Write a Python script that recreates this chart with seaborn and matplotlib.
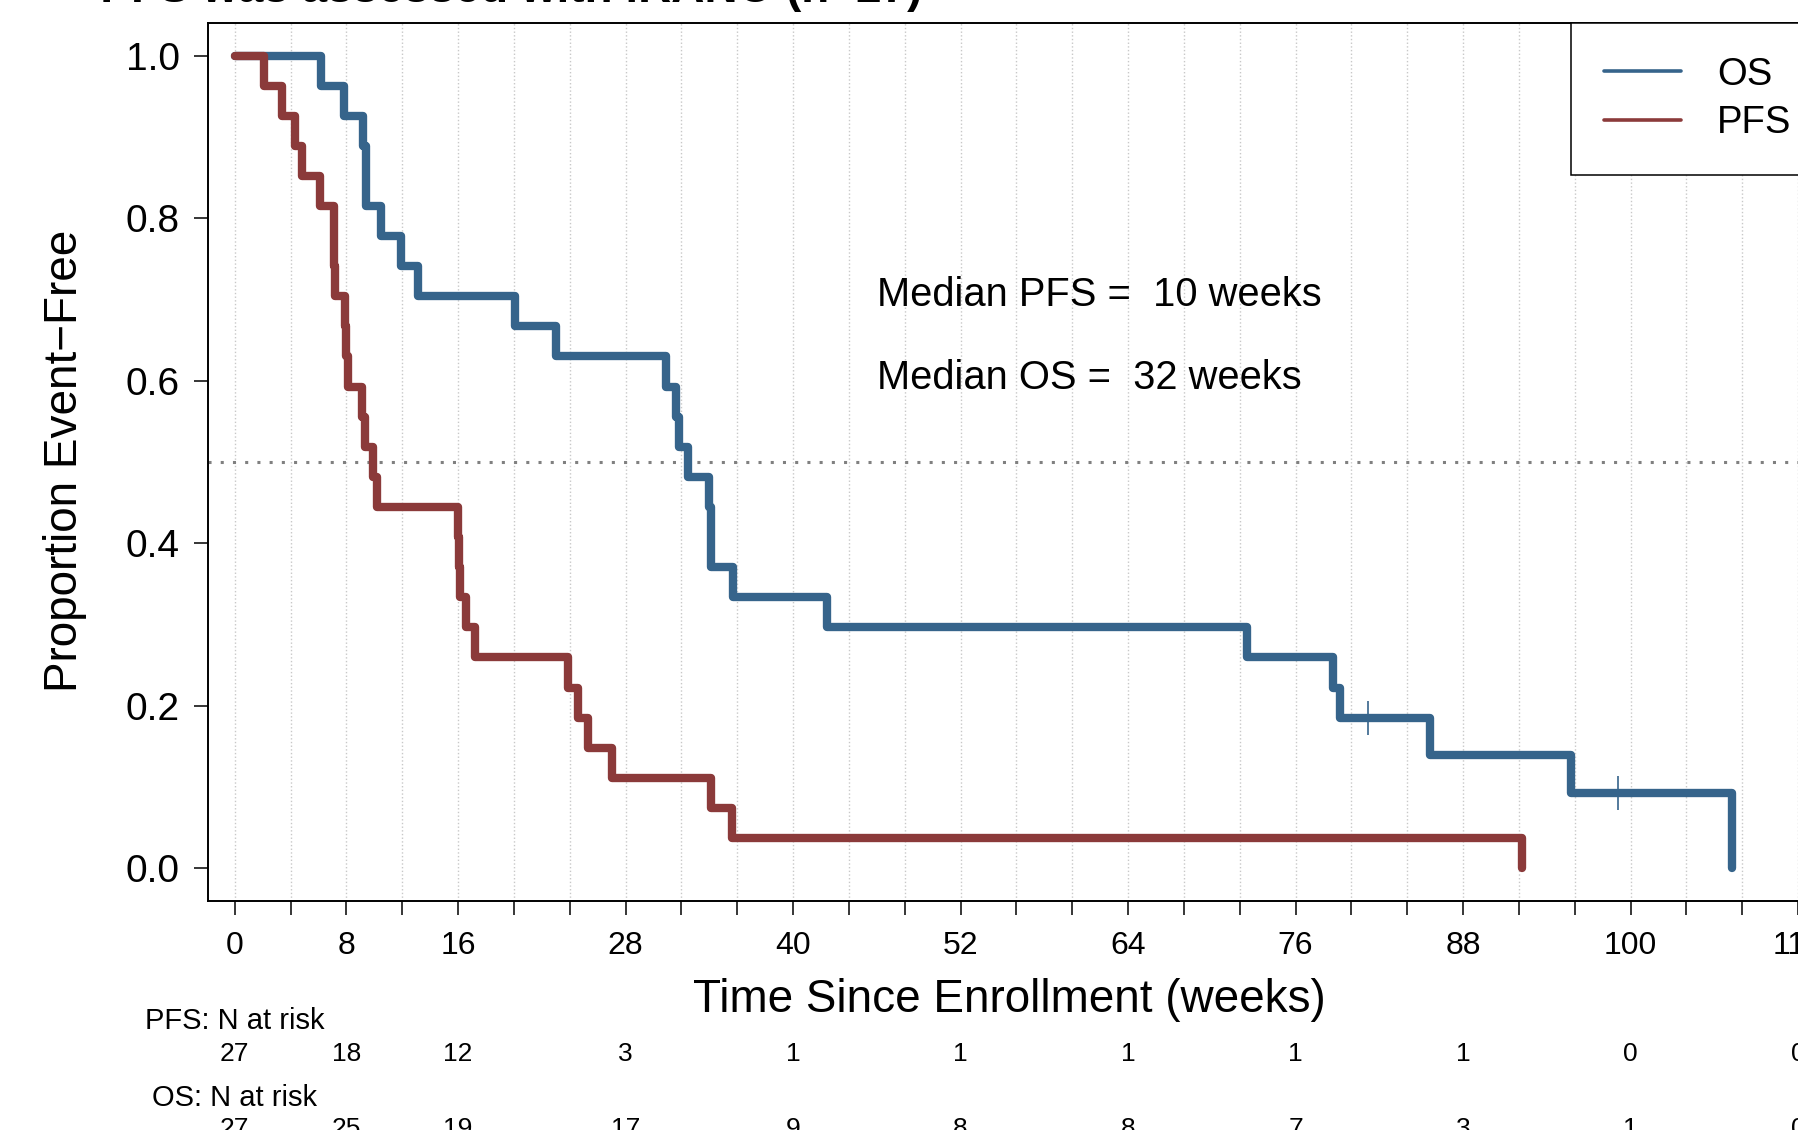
import numpy as np
import pandas as pd
import matplotlib
matplotlib.use("Agg")
import matplotlib.pyplot as plt
import matplotlib.transforms as mtransforms
from matplotlib.lines import Line2D
import seaborn as sns

# follow-up times in weeks (event = 1, censored = 0)
os_time = [6.2, 7.8, 9.2, 9.4, 9.4, 10.5, 11.9, 13.1, 20.1, 23.0, 30.9, 31.6, 31.8,
           32.5, 34.0, 34.1, 34.1, 35.7, 42.4, 72.5, 78.7, 79.2, 81.2, 85.6, 95.7,
           99.1, 107.3]
os_event = [1, 1, 1, 1, 1, 1, 1, 1, 1, 1, 1, 1, 1,
            1, 1, 1, 1, 1, 1, 1, 1, 1, 0, 1, 1,
            0, 1]
pfs_time = [2.1, 3.4, 4.3, 4.8, 6.1, 7.1, 7.1, 7.2, 7.9, 8.0, 8.1, 9.1, 9.3, 9.9,
            10.2, 16.0, 16.05, 16.15, 16.6, 17.2, 23.9, 24.6, 25.3, 27.0, 34.1, 35.6,
            92.2]
pfs_event = [1, 1, 1, 1, 1, 1, 1, 1, 1, 1, 1, 1, 1, 1,
             1, 1, 1, 1, 1, 1, 1, 1, 1, 1, 1, 1,
             1]

# number at risk table
risk_times = [0, 8, 16, 28, 40, 52, 64, 76, 88, 100, 112]
pfs_at_risk = [27, 18, 12, 3, 1, 1, 1, 1, 1, 0, 0]
os_at_risk = [27, 25, 19, 17, 9, 8, 8, 7, 3, 1, 0]

median_pfs = 10
median_os = 32

blue = "#36648B"   # steelblue4
red = "#8B3A3A"    # indianred4


def km_steps(times, events):
    d = pd.DataFrame({"t": times, "e": events}).sort_values("t")
    n = len(d)
    s = 1.0
    xs, ys, cx, cy = [0.0], [1.0], [], []
    for t, g in d.groupby("t"):
        deaths = g["e"].sum()
        if deaths > 0:
            s *= 1 - deaths / n
            xs.append(t)
            ys.append(s)
        for _ in range((g["e"] == 0).sum()):
            cx.append(t)
            cy.append(s)
        n -= len(g)
    return xs, ys, cx, cy


ox, oy, ocx, ocy = km_steps(os_time, os_event)
px, py, _, _ = km_steps(pfs_time, pfs_event)
curves = pd.concat([
    pd.DataFrame({"time": ox, "surv": oy, "endpoint": "OS"}),
    pd.DataFrame({"time": px, "surv": py, "endpoint": "PFS"}),
], ignore_index=True)

sns.set_theme(style="white")
plt.rcParams["font.family"] = ["Liberation Sans", "DejaVu Sans"]
plt.rcParams["text.color"] = "black"
plt.rcParams["xtick.color"] = "black"
plt.rcParams["ytick.color"] = "black"
plt.rcParams["axes.labelcolor"] = "black"

W, H = 1799, 1130
fig = plt.figure(figsize=(W / 100, H / 100), dpi=100)
ax_left, ax_top, ax_bot, ax_right = 207.7, 23, 900.6, 1805
ax = fig.add_axes([ax_left / W, 1 - ax_bot / H, (ax_right - ax_left) / W, (ax_bot - ax_top) / H])

# grid and median reference line
ax.set_xticks(np.arange(0, 117, 4))
ax.xaxis.grid(True, ls=":", color="#c8c8c8", lw=1.0)
ax.yaxis.grid(False)
ax.axhline(0.5, ls=(0, (1, 3.0)), color="#808080", lw=2.2, zorder=1)

sns.lineplot(data=curves, x="time", y="surv", hue="endpoint", hue_order=["OS", "PFS"],
             palette={"OS": blue, "PFS": red}, estimator=None, sort=False,
             drawstyle="steps-post", lw=6.0, legend=False, ax=ax,
             solid_capstyle="round", solid_joinstyle="round", zorder=3)
ax.plot(ocx, ocy, ls="none", marker="|", ms=24, mew=1.2, color=blue, zorder=4)

# axes (limits after the ticks, since set_xticks widens the view)
labels = [str(t) if t in risk_times else "" for t in range(0, 117, 4)]
ax.set_xticklabels(labels, fontsize=23)
ax.set_yticks([0, 0.2, 0.4, 0.6, 0.8, 1.0])
ax.set_yticklabels(["0.0", "0.2", "0.4", "0.6", "0.8", "1.0"], fontsize=28)
ax.set_xlim(-1.94, 112.5)
ax.set_ylim(-0.04, 1.04)
ax.tick_params(axis="both", direction="out", length=10, width=1.1, color="black",
               bottom=True, left=True)
ax.tick_params(axis="x", pad=12)
ax.tick_params(axis="y", pad=10)
for sp in ax.spines.values():
    sp.set_color("black")
    sp.set_linewidth(1.4)
ax.set_xlabel("")
ax.set_ylabel("")

fig.text(1009.6 / W, 1 - 1000.5 / H, "Time Since Enrollment (weeks)", fontsize=33,
         ha="center", va="center")
fig.text(65.4 / W, 1 - 461 / H, "Proportion Event\u2212Free", fontsize=33,
         rotation=90, ha="center", va="center")

ax.text(46.0, 0.705, f"Median PFS =  {median_pfs} weeks", fontsize=28.7, ha="left", va="center")
ax.text(46.0, 0.603, f"Median OS =  {median_os} weeks", fontsize=28.7, ha="left", va="center")

handles = [Line2D([], [], color=blue, lw=2.6), Line2D([], [], color=red, lw=2.6)]
leg = ax.legend(handles, ["OS", "PFS"], loc="upper left",
                bbox_to_anchor=(1570.6 / W, 1 - ax_top / H), bbox_transform=fig.transFigure,
                borderaxespad=0, borderpad=0.88, fontsize=27.5, handlelength=2.0,
                handletextpad=0.95, labelspacing=0.33, frameon=True, fancybox=False,
                edgecolor="black", framealpha=1)
leg.get_frame().set_linewidth(1.1)

# number at risk table
trans = mtransforms.blended_transform_factory(ax.transData, fig.transFigure)
ax.text(0, 1 - 1021 / H, "PFS: N at risk", transform=trans, fontsize=21,
        ha="center", va="center", clip_on=False)
ax.text(0, 1 - 1098 / H, "OS: N at risk", transform=trans, fontsize=21,
        ha="center", va="center", clip_on=False)
for t, n in zip(risk_times, pfs_at_risk):
    ax.text(t, 1 - 1054 / H, str(n), transform=trans, fontsize=19,
            ha="center", va="center", clip_on=False)
for t, n in zip(risk_times, os_at_risk):
    ax.text(t, 1 - 1129 / H, str(n), transform=trans, fontsize=19,
            ha="center", va="center", clip_on=False)

# title, mostly cropped off the top of the original
fig.text(62 / W, 1 - 2.2 / H, "\u2013 PFS was assessed with iRANO (n=27)", fontsize=33,
         fontweight="bold", ha="left", va="baseline")

fig.savefig("out.png", dpi=100)
